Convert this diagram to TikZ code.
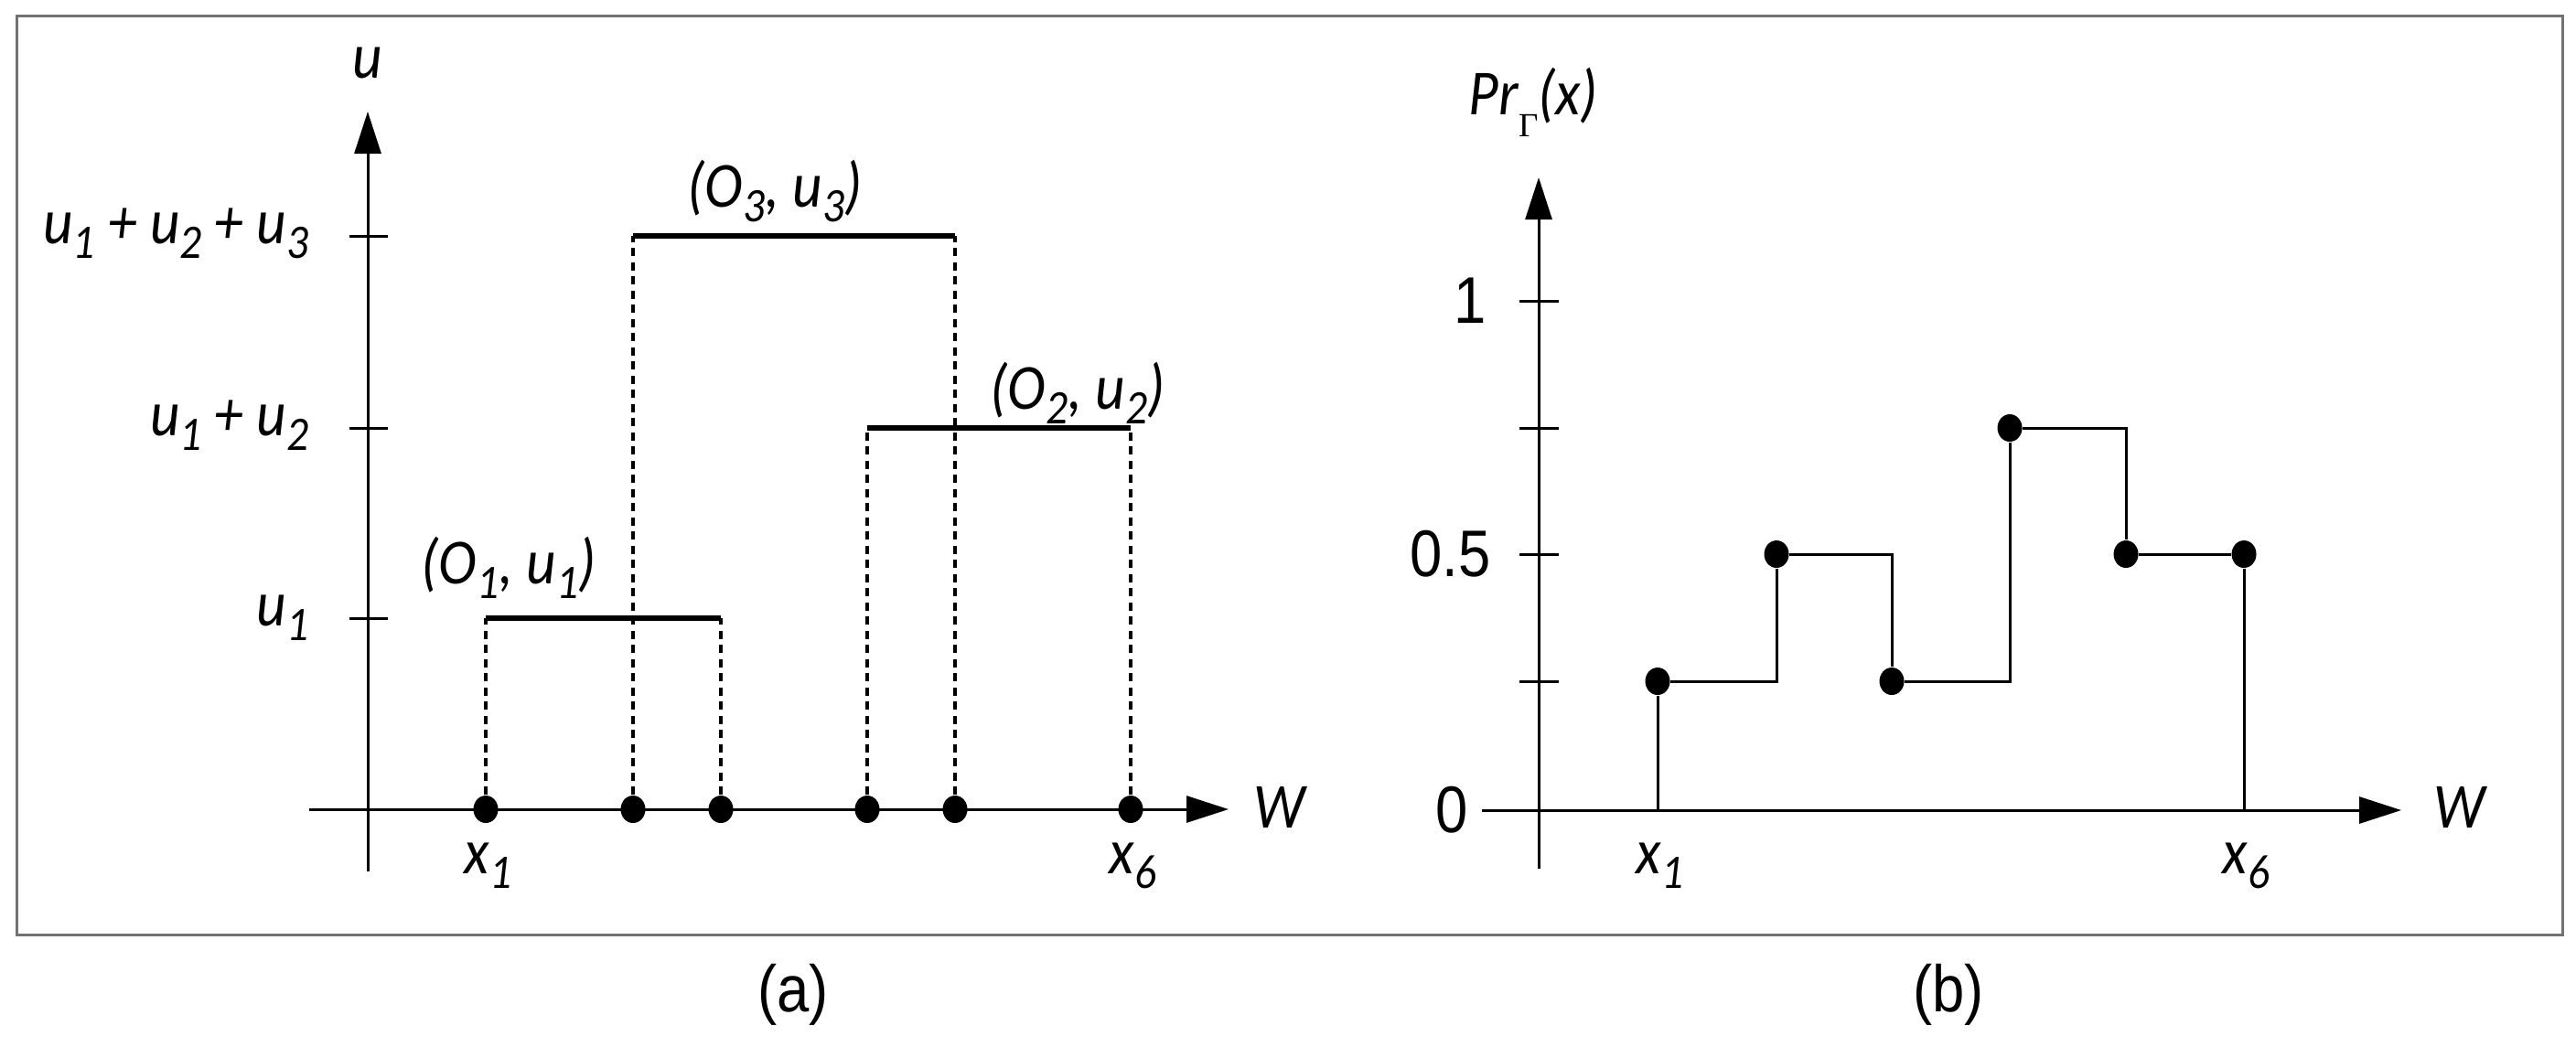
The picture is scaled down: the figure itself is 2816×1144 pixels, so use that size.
\documentclass[tikz,border=0pt]{standalone}
\usepackage{fontspec}
\setmainfont{Carlito}[FakeStretch=0.9]
\newfontfamily\arialf{Liberation Sans}[FakeStretch=0.88]
\newfontfamily\gserif{Liberation Serif}
\usetikzlibrary{arrows.meta,shapes.geometric}
\newcommand\lsub[1]{\raisebox{-0.24em}{\fontsize{15}{16}\selectfont #1}}
\begin{document}
\begin{tikzpicture}[x=0.1mm,y=-0.1mm,
  arrowaxis/.style={line width=0.3mm,-{Triangle[length=4.6mm,width=2.9mm]}},
  tickl/.style={line width=0.3mm},
  seg/.style={line width=0.55mm},
  drop/.style={line width=0.4mm, dash pattern=on 0.9mm off 0.65mm},
  stepl/.style={line width=0.3mm},
  dot/.style={ellipse, fill=black, inner sep=0pt, minimum width=2.7mm, minimum height=3mm},
  lab/.style={font=\fontsize{20}{24}\selectfont\itshape, inner sep=0pt},
  num/.style={font=\fontsize{20.5}{24}\selectfont\arialf, inner sep=0pt},
]
\useasboundingbox (0,0) rectangle (2816,1144);
\draw[black!55, line width=0.3mm] (18,17) rectangle (2801,1022);

% ---------- panel (a)
\coordinate (ayb) at (402,953);
\coordinate (ayt) at (402,122);
\coordinate (axl) at (338,885);
\coordinate (axr) at (1343,885);
\draw[arrowaxis] (ayb) -- (ayt);
\draw[arrowaxis] (axl) -- (axr);
\foreach \yy in {258,468,676} \draw[tickl] (382,\yy) -- (424,\yy);

\coordinate (t1) at (531,676);
\coordinate (t2) at (692,258);
\coordinate (t3) at (788,676);
\coordinate (t4) at (948,468);
\coordinate (t5) at (1044,258);
\coordinate (t6) at (1236,468);
\node[dot] (p1) at (531,885) {};
\node[dot] (p2) at (692,885) {};
\node[dot] (p3) at (788,885) {};
\node[dot] (p4) at (948,885) {};
\node[dot] (p5) at (1044,885) {};
\node[dot] (p6) at (1236,885) {};
\foreach \i in {1,...,6} \draw[drop] (p\i) -- (t\i);
\draw[seg] (t1) -- (t3);
\draw[seg] (t2) -- (t5);
\draw[seg] (t4) -- (t6);

\node[lab, anchor=base] (ulab) at (402,85) {u};
\node[lab, anchor=base east] (l3) at (338,266) {u\lsub{1} + u\lsub{2} + u\lsub{3}};
\node[lab, anchor=base east] (l2) at (338,476) {u\lsub{1} + u\lsub{2}};
\node[lab, anchor=base east] (l1) at (338,684) {u\lsub{1}};
\node[lab, anchor=base] (o3) at (847,226) {(O\lsub{3}, u\lsub{3})};
\node[lab, anchor=base] (o2) at (1178,447) {(O\lsub{2}, u\lsub{2})};
\node[lab, anchor=base] (o1) at (556,638) {(O\lsub{1}, u\lsub{1})};
\node[lab, anchor=base west] (x1a) at (507,955) {x\lsub{1}};
\node[lab, anchor=base west] (x6a) at (1212,955) {x\lsub{6}};
\node[lab, anchor=base west] (wa) at (1370,905) {W};
\node[num] (capa) at (867,1088) {(a)};

% ---------- panel (b)
\coordinate (byb) at (1682,950);
\coordinate (byt) at (1682,194);
\coordinate (bxl) at (1620,886);
\coordinate (bxr) at (2625,886);
\draw[arrowaxis] (byb) -- (byt);
\draw[arrowaxis] (bxl) -- (bxr);
\foreach \yy in {329,468,606,745} \draw[tickl] (1661,\yy) -- (1704,\yy);

\node[dot] (q1) at (1812,745) {};
\node[dot] (q2) at (1942,606) {};
\node[dot] (q3) at (2068,745) {};
\node[dot] (q4) at (2197,468) {};
\node[dot] (q5) at (2324,606) {};
\node[dot] (q6) at (2453,606) {};
\coordinate (q0) at (1812,886);
\coordinate (q7) at (2453,886);
\draw[stepl] (q0) -- (q1);
\draw[stepl] (q1) -| (q2) -| (q3) -| (q4) -| (q5) -- (q6) -- (q7);

\node[lab, anchor=base west] (pr) at (1605,125) {Pr\raisebox{-0.35em}{\fontsize{10.5}{12}\selectfont\gserif\upshape Γ}(x)};
\node[num, anchor=east] (n1) at (1625,329) {1};
\node[num, anchor=east] (n05) at (1630,606) {0.5};
\node[num, anchor=east] (n0) at (1605,886) {0};
\node[lab, anchor=base west] (x1b) at (1788,955) {x\lsub{1}};
\node[lab, anchor=base west] (x6b) at (2429,955) {x\lsub{6}};
\node[lab, anchor=base west] (wb) at (2660,905) {W};
\node[num] (capb) at (2130,1088) {(b)};
\end{tikzpicture}
\end{document}
